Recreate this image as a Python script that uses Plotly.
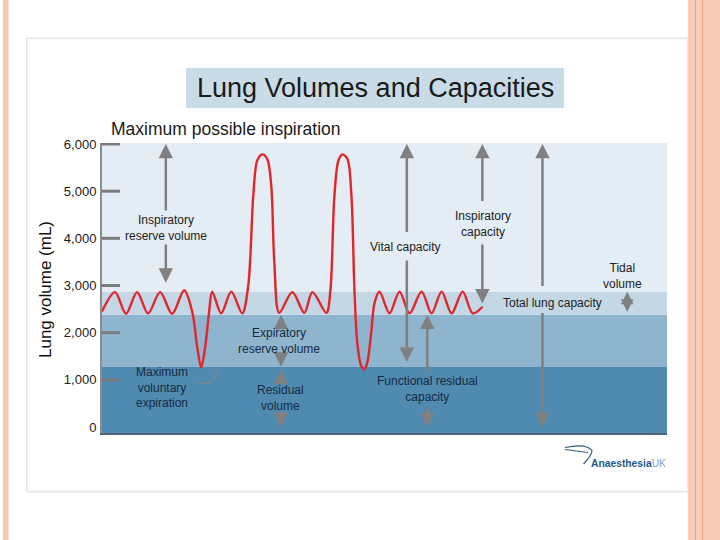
import plotly.graph_objects as go

W, H = 720, 540
FONT = "Liberation Sans, Arial, Helvetica, sans-serif"

# ---------------- data ----------------
# spirometer trace: time (s) and lung volume (mL)
time_s = [0.0, 1.3, 2.4, 3.5, 4.6, 5.8, 7.0, 8.2,
          9.0, 9.5, 9.9, 10.3, 10.7, 11.0,
          11.9, 12.9, 14.0,
          14.6, 15.1, 15.5, 16.0, 16.5, 16.9, 17.2, 17.7,
          19.0, 20.2, 21.0, 22.4,
          22.8, 23.2, 23.6, 24.0, 24.5, 24.9, 25.2, 25.5, 25.9, 26.2, 26.5, 26.9, 27.2, 27.7,
          28.7, 29.7, 30.7, 31.9, 32.9, 33.9, 34.9, 36.0, 37.0, 38.0]
volume_ml = [2450, 2860, 2400, 2860, 2410, 2860, 2400, 2900,
             2450, 1700, 1260, 1700, 2450, 2870,
             2410, 2870, 2410,
             3000, 4900, 5650, 5780, 5680, 5100, 3500, 2420,
             2860, 2420, 2860, 2420,
             2900, 4900, 5650, 5780, 5680, 4900, 2900, 1750, 1280, 1230, 1380, 2060, 2620, 2870,
             2410, 2870, 2410, 2870, 2410, 2870, 2410, 2870, 2410, 2550]

# background bands (mL)
band_names = ["Residual volume", "Expiratory reserve volume", "Tidal volume", "Inspiratory reserve volume"]
band_lower = [0, 1270, 2380, 2860]
band_upper = [1270, 2380, 2860, 6000]
band_colors = ["#4f8ab1", "#8fb4cd", "#c4d7e4", "#e4edf3"]

# y axis ticks
tick_vals = [0, 1000, 2000, 3000, 4000, 5000, 6000]
tick_text = ["0", "1,000", "2,000", "3,000", "4,000", "5,000", "6,000"]

# arrows: x (s), tail (mL), head (mL)
arrow_x    = [6.37, 6.37, 17.87, 17.87, 17.87, 17.87, 30.43, 30.43, 37.97, 37.97, 32.47, 32.47, 43.97, 43.97]
arrow_tail = [4560, 3900, 2060, 1600, 920, 380, 4100, 3560, 4760, 3900, 1150, 440, 2960, 2450]
arrow_head = [6000, 3060, 2375, 1280, 1210, 0, 6000, 1380, 6000, 2620, 2380, 0, 6000, 0]
tidal_arrow = (52.43, 2410, 2868)

# labels: text, x (s), y (mL), dark?
labels = [
    ("Inspiratory<br>reserve volume", 6.4, 4229, False),
    ("Expiratory<br>reserve volume", 17.7, 1834, True),
    ("Residual<br>volume", 17.8, 615, True),
    ("Vital capacity", 30.2, 3816, False),
    ("Inspiratory<br>capacity", 38.0, 4314, False),
    ("Functional residual<br>capacity", 32.5, 806, True),
    ("Total lung capacity", 45.0, 2635, False),
    ("Tidal<br>volume", 52.0, 3197, False),
    ("Maximum<br>voluntary<br>expiration", 6.03, 833, True),
]

X_RANGE = [0, 56.4]
Y_RANGE = [-127, 6021]


def px_x(x):
    return x / W


def px_y(y):
    return 1 - y / H


fig = go.Figure()
fig.add_trace(go.Scatter(
    x=time_s, y=volume_ml, mode="lines",
    line=dict(color="#e1262b", width=2.4, shape="spline", smoothing=0.9),
    hoverinfo="skip", showlegend=False))

shapes = []
# slide decorations
shapes.append(dict(type="rect", xref="paper", yref="paper", layer="below",
                   x0=px_x(26.7), x1=px_x(688), y0=px_y(491.7), y1=px_y(38.3),
                   fillcolor="white", line=dict(color="#e2e5e9", width=1.5)))
shapes.append(dict(type="rect", xref="paper", yref="paper", layer="below",
                   x0=px_x(3), x1=px_x(8.5), y0=0, y1=1,
                   fillcolor="#f7c6b4", line=dict(width=0)))
shapes.append(dict(type="rect", xref="paper", yref="paper", layer="below",
                   x0=px_x(688), x1=1, y0=0, y1=1,
                   fillcolor="#f9cbb9", line=dict(width=0)))
for lx in [695.5, 702.5]:
    shapes.append(dict(type="line", xref="paper", yref="paper", layer="below",
                       x0=px_x(lx), x1=px_x(lx), y0=0, y1=1,
                       line=dict(color="#eda285", width=1)))
# title box
shapes.append(dict(type="rect", xref="paper", yref="paper", layer="below",
                   x0=px_x(186), x1=px_x(564), y0=px_y(108), y1=px_y(68),
                   fillcolor="#c9dbe7", line=dict(width=0)))
# bands
for i, (lo, hi, col) in enumerate(zip(band_lower, band_upper, band_colors)):
    y0 = Y_RANGE[0] if i == 0 else lo
    y1 = Y_RANGE[1] if i == len(band_lower) - 1 else hi
    shapes.append(dict(type="rect", xref="x domain", yref="y", layer="below",
                       x0=0, x1=1, y0=y0, y1=y1, fillcolor=col, line=dict(width=0)))
# tick bars
for v in tick_vals[1:]:
    shapes.append(dict(type="line", xref="x domain", yref="y",
                       x0=0, x1=18 / 565, y0=v, y1=v,
                       line=dict(color="#7b7b7b", width=3)))
# leader line for maximum voluntary expiration
shapes.append(dict(type="path", xref="x", yref="y",
                   path="M 9.4,925 L 10.9,925 L 11.7,1250",
                   line=dict(color="#7d8790", width=1.2)))
# logo swoosh
sw = "M %f,%f Q %f,%f %f,%f Q %f,%f %f,%f" % (
    px_x(565), px_y(447.5), px_x(586), px_y(443), px_x(592), px_y(450.5),
    px_x(592), px_y(455), px_x(583.5), px_y(464))
shapes.append(dict(type="path", xref="paper", yref="paper", path=sw,
                   line=dict(color="#2f5f86", width=1.2)))
sw2 = "M %f,%f L %f,%f" % (px_x(565), px_y(449.5), px_x(588), px_y(452.5))
shapes.append(dict(type="path", xref="paper", yref="paper", path=sw2,
                   line=dict(color="#2f5f86", width=1.0)))

fig.update_layout(shapes=shapes)

# arrows
ARROW = "#808080"
for x, t, h in zip(arrow_x, arrow_tail, arrow_head):
    fig.add_annotation(x=x, y=h, ax=x, ay=t, xref="x", yref="y", axref="x", ayref="y",
                       text="", showarrow=True, arrowhead=2, arrowsize=1.15, arrowwidth=2.5,
                       arrowcolor=ARROW, standoff=0, startstandoff=0)
tx, tlo, thi = tidal_arrow
fig.add_annotation(x=tx, y=thi, ax=tx, ay=tlo, xref="x", yref="y", axref="x", ayref="y",
                   text="", showarrow=True, arrowhead=2, arrowsize=1.0, arrowwidth=2.5,
                   arrowside="end+start", startarrowhead=2, startarrowsize=1.0,
                   arrowcolor=ARROW, standoff=0, startstandoff=0)

# labels
for text, x, y, dark in labels:
    fig.add_annotation(x=x, y=y, xref="x", yref="y", text=text, showarrow=False,
                       font=dict(size=12, color="#172a3e" if dark else "#222222", family=FONT),
                       xanchor="center", yanchor="middle", align="center")

# titles
fig.add_annotation(x=px_x(375), y=px_y(88.5), xref="paper", yref="paper",
                   xanchor="center", yanchor="middle",
                   text="Lung Volumes and Capacities", showarrow=False,
                   font=dict(size=27, color="#1a1a1a", family=FONT))
fig.add_annotation(x=px_x(109), y=px_y(129), xref="paper", yref="paper",
                   xanchor="left", yanchor="middle",
                   text="Maximum possible inspiration", showarrow=False,
                   font=dict(size=17.5, color="#1a1a1a", family=FONT))
fig.add_annotation(x=px_x(45), y=px_y(290), xref="paper", yref="paper", textangle=-90,
                   xanchor="center", yanchor="middle",
                   text="Lung volume (mL)", showarrow=False,
                   font=dict(size=17, color="#111111", family=FONT))
fig.add_annotation(x=px_x(589), y=px_y(463), xref="paper", yref="paper",
                   xanchor="left", yanchor="middle",
                   text="<b>Anaesthesia</b><span style='color:#7d9fbd'>UK</span>",
                   showarrow=False, font=dict(size=10.3, color="#1f5a8a", family=FONT))

fig.update_layout(
    width=W, height=H, margin=dict(l=0, r=0, t=0, b=0),
    paper_bgcolor="white", plot_bgcolor="rgba(0,0,0,0)",
    xaxis=dict(domain=[px_x(102), px_x(667)], range=X_RANGE, showgrid=False, zeroline=False,
               showticklabels=False, ticks="", showline=True, linecolor="#4e6272", linewidth=2,
               fixedrange=True),
    yaxis=dict(domain=[px_y(433), px_y(143)], range=Y_RANGE, showgrid=False, zeroline=False,
               tickvals=tick_vals, ticktext=tick_text, ticks="", ticklabelstandoff=1,
               tickfont=dict(size=13, color="#1a1a1a", family=FONT),
               showline=True, linecolor="#8c8c8c", linewidth=2,
               automargin=False, fixedrange=True),
    showlegend=False,
)

fig.write_html("out.html", config={"displayModeBar": False},
               post_script="document.body.style.margin='0px';")
